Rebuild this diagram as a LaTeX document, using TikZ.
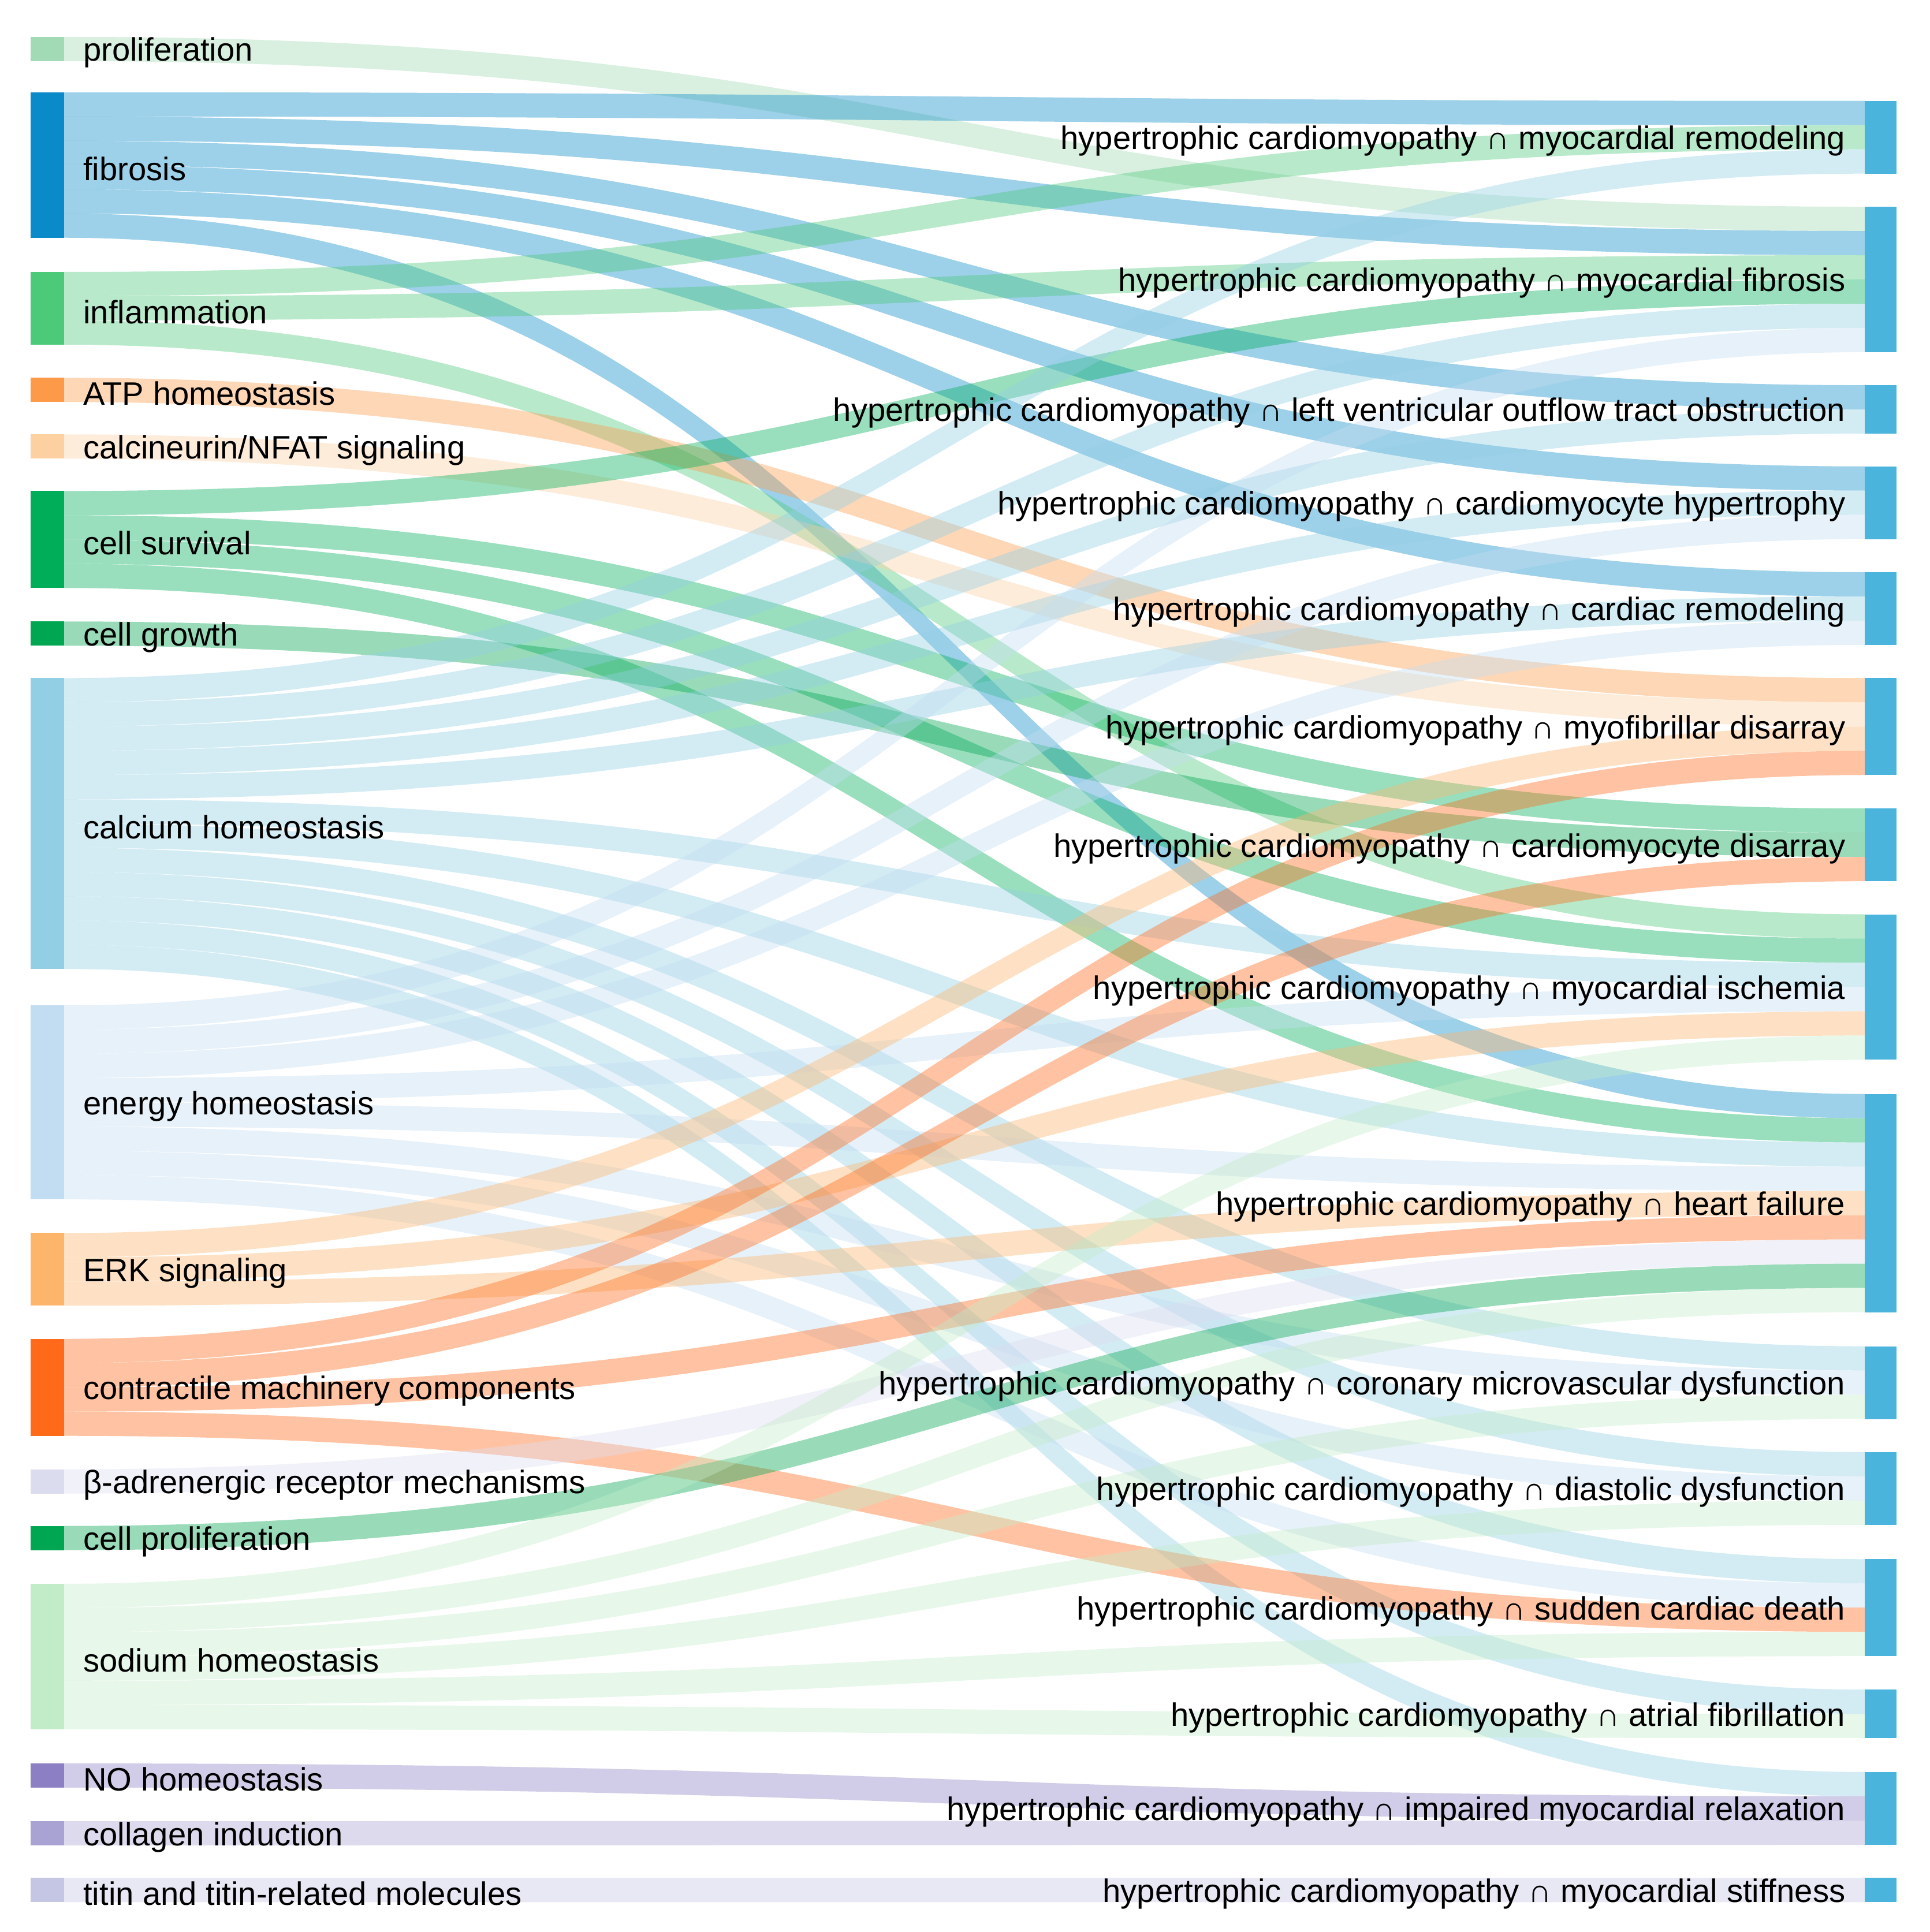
\documentclass[tikz,border=0pt]{standalone}
\usepackage{fontspec}
\setmainfont{Liberation Sans}
\begin{document}
\begin{tikzpicture}[x=0.01cm,y=-0.01cm,
  lab/.style={inner sep=0pt,font=\fontsize{7.5}{9}\selectfont,text=black},
  llab/.style={lab,anchor=west},
  rlab/.style={lab,anchor=east}]
\def\u{19.7}
\useasboundingbox (0,0) rectangle (1568,1570);
\definecolor{cprolif}{HTML}{A1DAB4}
\definecolor{cfib}{HTML}{0A8AC8}
\definecolor{cinfl}{HTML}{4DC97A}
\definecolor{catp}{HTML}{FD9A4A}
\definecolor{ccalcn}{HTML}{FDD0A2}
\definecolor{csurv}{HTML}{00AE5A}
\definecolor{cgrowth}{HTML}{00A651}
\definecolor{cca}{HTML}{92CFE4}
\definecolor{cen}{HTML}{C2DDF1}
\definecolor{cerk}{HTML}{FDB56C}
\definecolor{ccon}{HTML}{FF6A1A}
\definecolor{cbeta}{HTML}{DCDCEF}
\definecolor{ccprol}{HTML}{00A651}
\definecolor{cna}{HTML}{C2EBC8}
\definecolor{cno}{HTML}{8C7FC4}
\definecolor{ccol}{HTML}{A9A3D3}
\definecolor{ctitin}{HTML}{C5C6E4}
\definecolor{cright}{HTML}{4AB4DC}
% link macro: srcTop srcIdx tgtTop tgtIdx color
\newcommand\lnk[5]{%
  \pgfmathsetmacro\ya{#1+#2*\u}%
  \pgfmathsetmacro\yb{#3+#4*\u}%
  \pgfmathsetmacro\yc{\ya+\u}%
  \pgfmathsetmacro\yd{\yb+\u}%
  \fill[#5,fill opacity=0.4] (52,\ya) .. controls (783.5,\ya) and (783.5,\yb) .. (1515,\yb)
    -- (1515,\yd) .. controls (783.5,\yd) and (783.5,\yc) .. (52,\yc) -- cycle;}
% tops
\def\Lprolif{30}\def\Lfib{75}\def\Linfl{221}\def\Latp{307}\def\Lcalcn{353}
\def\Lsurv{399}\def\Lgrowth{505}\def\Lca{551}\def\Len{817}\def\Lerk{1002}
\def\Lcon{1088}\def\Lbeta{1194}\def\Lcprol{1240}\def\Lna{1287}\def\Lno{1433}
\def\Lcol{1480}\def\Ltitin{1526}
\def\Ra{82}\def\Rb{168}\def\Rc{313}\def\Rd{379}\def\Re{465}\def\Rf{551}
\def\Rg{657}\def\Rh{743}\def\Ri{889}\def\Rj{1094}\def\Rk{1180}\def\Rl{1267}
\def\Rm{1373}\def\Rn{1440}\def\Ro{1526}
% links
\lnk{\Lprolif}{0}{\Rb}{0}{cprolif}
\lnk{\Lfib}{0}{\Ra}{0}{cfib}
\lnk{\Lfib}{1}{\Rb}{1}{cfib}
\lnk{\Lfib}{2}{\Rc}{0}{cfib}
\lnk{\Lfib}{3}{\Rd}{0}{cfib}
\lnk{\Lfib}{4}{\Re}{0}{cfib}
\lnk{\Lfib}{5}{\Ri}{0}{cfib}
\lnk{\Linfl}{0}{\Ra}{1}{cinfl}
\lnk{\Linfl}{1}{\Rb}{2}{cinfl}
\lnk{\Linfl}{2}{\Rh}{0}{cinfl}
\lnk{\Latp}{0}{\Rf}{0}{catp}
\lnk{\Lcalcn}{0}{\Rf}{1}{ccalcn}
\lnk{\Lsurv}{0}{\Rb}{3}{csurv}
\lnk{\Lsurv}{1}{\Rg}{0}{csurv}
\lnk{\Lsurv}{2}{\Rh}{1}{csurv}
\lnk{\Lsurv}{3}{\Ri}{1}{csurv}
\lnk{\Lgrowth}{0}{\Rg}{1}{cgrowth}
\lnk{\Lca}{0}{\Ra}{2}{cca}
\lnk{\Lca}{1}{\Rb}{4}{cca}
\lnk{\Lca}{2}{\Rc}{1}{cca}
\lnk{\Lca}{3}{\Rd}{1}{cca}
\lnk{\Lca}{4}{\Re}{1}{cca}
\lnk{\Lca}{5}{\Rh}{2}{cca}
\lnk{\Lca}{6}{\Ri}{2}{cca}
\lnk{\Lca}{7}{\Rj}{0}{cca}
\lnk{\Lca}{8}{\Rk}{0}{cca}
\lnk{\Lca}{9}{\Rl}{0}{cca}
\lnk{\Lca}{10}{\Rm}{0}{cca}
\lnk{\Lca}{11}{\Rn}{0}{cca}
\lnk{\Len}{0}{\Rb}{5}{cen}
\lnk{\Len}{1}{\Rd}{2}{cen}
\lnk{\Len}{2}{\Re}{2}{cen}
\lnk{\Len}{3}{\Rh}{3}{cen}
\lnk{\Len}{4}{\Ri}{3}{cen}
\lnk{\Len}{5}{\Rj}{1}{cen}
\lnk{\Len}{6}{\Rk}{1}{cen}
\lnk{\Len}{7}{\Rl}{1}{cen}
\lnk{\Lerk}{0}{\Rf}{2}{cerk}
\lnk{\Lerk}{1}{\Rh}{4}{cerk}
\lnk{\Lerk}{2}{\Ri}{4}{cerk}
\lnk{\Lcon}{0}{\Rf}{3}{ccon}
\lnk{\Lcon}{1}{\Rg}{2}{ccon}
\lnk{\Lcon}{2}{\Ri}{5}{ccon}
\lnk{\Lcon}{3}{\Rl}{2}{ccon}
\lnk{\Lbeta}{0}{\Ri}{6}{cbeta}
\lnk{\Lcprol}{0}{\Ri}{7}{ccprol}
\lnk{\Lna}{0}{\Rh}{5}{cna}
\lnk{\Lna}{1}{\Ri}{8}{cna}
\lnk{\Lna}{2}{\Rj}{2}{cna}
\lnk{\Lna}{3}{\Rk}{2}{cna}
\lnk{\Lna}{4}{\Rl}{3}{cna}
\lnk{\Lna}{5}{\Rm}{1}{cna}
\lnk{\Lno}{0}{\Rn}{1}{cno}
\lnk{\Lcol}{0}{\Rn}{2}{ccol}
\lnk{\Ltitin}{0}{\Ro}{0}{ctitin}
% left nodes: top, units, color, name, label
\newcommand\lnode[5]{%
  \pgfmathsetmacro\yt{#1}\pgfmathsetmacro\ybt{#1+#2*\u}\pgfmathsetmacro\ym{#1+#2*\u/2+3}%
  \fill[#3] (25,\yt) rectangle (52,\ybt);
  \node[llab] (#4) at (67,\ym) {#5};}
\newcommand\rnode[4]{%
  \pgfmathsetmacro\yt{#1}\pgfmathsetmacro\ybt{#1+#2*\u}\pgfmathsetmacro\ym{#1+#2*\u/2+3}%
  \fill[cright] (1515,\yt) rectangle (1541,\ybt);
  \node[rlab] (#3) at (1500,\ym) {#4};}
\lnode{\Lprolif}{1}{cprolif}{nprolif}{proliferation}
\lnode{\Lfib}{6}{cfib}{nfib}{fibrosis}
\lnode{\Linfl}{3}{cinfl}{ninfl}{inflammation}
\lnode{\Latp}{1}{catp}{natp}{ATP homeostasis}
\lnode{\Lcalcn}{1}{ccalcn}{ncalcn}{calcineurin/NFAT signaling}
\lnode{\Lsurv}{4}{csurv}{nsurv}{cell survival}
\lnode{\Lgrowth}{1}{cgrowth}{ngrowth}{cell growth}
\lnode{\Lca}{12}{cca}{nca}{calcium homeostasis}
\lnode{\Len}{8}{cen}{nen}{energy homeostasis}
\lnode{\Lerk}{3}{cerk}{nerk}{ERK signaling}
\lnode{\Lcon}{4}{ccon}{ncon}{contractile machinery components}
\lnode{\Lbeta}{1}{cbeta}{nbeta}{β-adrenergic receptor mechanisms}
\lnode{\Lcprol}{1}{ccprol}{ncprol}{cell proliferation}
\lnode{\Lna}{6}{cna}{nna}{sodium homeostasis}
\lnode{\Lno}{1}{cno}{nno}{NO homeostasis}
\lnode{\Lcol}{1}{ccol}{ncol}{collagen induction}
\lnode{\Ltitin}{1}{ctitin}{ntitin}{titin and titin-related molecules}
\def\H{hypertrophic cardiomyopathy ∩ }
\rnode{\Ra}{3}{ra}{\H myocardial remodeling}
\rnode{\Rb}{6}{rb}{\H myocardial fibrosis}
\rnode{\Rc}{2}{rc}{\H left ventricular outflow tract obstruction}
\rnode{\Rd}{3}{rd}{\H cardiomyocyte hypertrophy}
\rnode{\Re}{3}{re}{\H cardiac remodeling}
\rnode{\Rf}{4}{rf}{\H myofibrillar disarray}
\rnode{\Rg}{3}{rg}{\H cardiomyocyte disarray}
\rnode{\Rh}{6}{rh}{\H myocardial ischemia}
\rnode{\Ri}{9}{ri}{\H heart failure}
\rnode{\Rj}{3}{rj}{\H coronary microvascular dysfunction}
\rnode{\Rk}{3}{rk}{\H diastolic dysfunction}
\rnode{\Rl}{4}{rl}{\H sudden cardiac death}
\rnode{\Rm}{2}{rm}{\H atrial fibrillation}
\rnode{\Rn}{3}{rn}{\H impaired myocardial relaxation}
\rnode{\Ro}{1}{ro}{\H myocardial stiffness}
\end{tikzpicture}
\end{document}
